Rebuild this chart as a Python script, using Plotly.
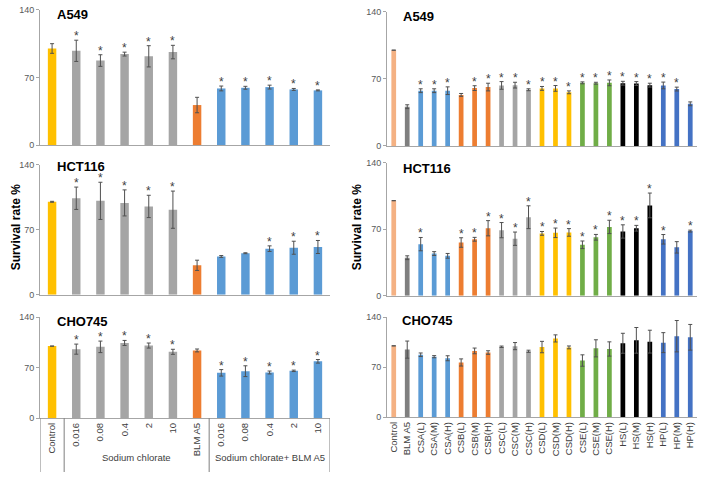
import plotly.graph_objects as go

# ---------------- data ----------------
left_labels = ["Control", "0.016", "0.08", "0.4", "2", "10", "BLM A5",
               "0.016", "0.08", "0.4", "2", "10"]
left_groups = ["Sodium chlorate", "Sodium chlorate+ BLM A5"]

a549_left = [100, 97.6, 87.5, 94.2, 91.9, 96.3, 41.4, 58.6, 59.3, 60.0, 57.6, 56.6]
a549_left_err = [5, 11, 6, 2, 11, 7, 8, 2.5, 1.5, 2, 1, 0.5]
a549_left_star = [0, 1, 1, 1, 1, 1, 0, 1, 1, 1, 1, 1]

hct_left = [100, 103.8, 101, 98.8, 95, 91.5, 31.7, 41.2, 44.7, 49.6, 50.6, 51.4]
hct_left_err = [0.5, 12, 20, 14, 12, 20, 5.5, 1, 0.5, 3, 7, 7]
hct_left_star = [0, 1, 1, 1, 1, 1, 0, 0, 0, 1, 1, 1]

cho_left = [100, 95.8, 99, 104.4, 100.8, 92.1, 94, 62.9, 65.2, 63.4, 65.7, 78.9]
cho_left_err = [0, 7, 8, 3.5, 3.5, 3.5, 2, 4.5, 7.5, 2, 1, 2.5]
cho_left_star = [0, 1, 1, 1, 1, 1, 0, 1, 1, 1, 1, 1]

right_labels = ["Control", "BLM A5", "CSA(L)", "CSA(M)", "CSA(H)", "CSB(L)", "CSB(M)", "CSB(H)",
                "CSC(L)", "CSC(M)", "CSC(H)", "CSD(L)", "CSD(M)", "CSD(H)",
                "CSE(L)", "CSE(M)", "CSE(H)", "HS(L)", "HS(M)", "HS(H)", "HP(L)", "HP(M)", "HP(H)"]

a549_right = [100, 41, 57.7, 57.7, 57.7, 53.3, 60.4, 61.5, 63.2, 63.5, 58.7, 60.1, 60.1, 56,
              65.9, 65.5, 65.9, 65.5, 65.2, 63.5, 63.2, 59.4, 44]
a549_right_err = [0, 2, 2, 2, 4, 1.5, 2.5, 4, 4, 3, 1, 2, 3, 1.5, 1, 1, 3, 2, 2, 2, 3.5, 2, 2]
a549_right_star = [0, 0, 1, 1, 1, 0, 1, 1, 1, 1, 1, 1, 1, 1, 1, 1, 1, 1, 1, 1, 1, 1, 0]

hct_right = [100, 40, 54.3, 44.4, 42, 56, 59.4, 71, 69, 60, 82.6, 65.6, 66.2, 66.6,
             53.6, 61.5, 72.4, 67.6, 71, 95, 59.4, 50.9, 68]
hct_right_err = [0, 2, 7, 2, 2.5, 5, 2, 8, 8, 7, 12, 2, 5, 4, 4, 3, 7, 7, 3, 13, 5, 6, 1]
hct_right_star = [0, 0, 1, 0, 0, 1, 1, 1, 1, 1, 1, 1, 1, 1, 1, 1, 1, 1, 1, 1, 1, 0, 1]

cho_right = [100, 94.7, 87.5, 84.8, 82.6, 76.7, 92.9, 90.6, 98.7, 99.6, 92.4, 98.3, 110.4, 97.8,
             79.4, 96.5, 95.6, 103.6, 107.7, 105.9, 104.5, 113.5, 112]
cho_right_err = [0, 12, 2.5, 1.5, 3.5, 5, 4, 2.5, 1, 5, 1.5, 8, 5, 2, 8, 12, 10, 14, 18, 16, 14, 22, 18]
cho_right_star = [0] * 23

# ---------------- styles ----------------
GOLD, GREY, ORANGE, BLUE = "#FFC000", "#A5A5A5", "#ED7D31", "#5B9BD5"
PEACH, DGREY, GREEN, BLACK, HPBLUE = "#F4B183", "#7F7F7F", "#70AD47", "#000000", "#4472C4"
left_colors = [GOLD] + [GREY] * 5 + [ORANGE] + [BLUE] * 5
right_colors = [PEACH, DGREY] + [BLUE] * 3 + [ORANGE] * 3 + [GREY] * 3 + [GOLD] * 3 + \
               [GREEN] * 3 + [BLACK] * 3 + [HPBLUE] * 3

FONT = "Arial, Liberation Sans, sans-serif"
W, H = 709, 477

def px_x(p):
    return p / W

def px_y(p):
    return 1 - p / H

left_dom = [px_x(40), px_x(330)]
right_dom = [px_x(387), px_x(697)]
ydoms = {
    1: [px_y(143), px_y(5)], 2: [px_y(144), px_y(7)],
    3: [px_y(296), px_y(163)], 4: [px_y(297), px_y(161)],
    5: [px_y(422), px_y(319)], 6: [px_y(421), px_y(319)],
}
title_pos = {1: (55, 10), 2: (401, 12), 3: (55, 165), 4: (401, 167), 5: (55, 323), 6: (400, 322)}

panels = [
    (1, a549_left, a549_left_err, a549_left_star, left_colors, "A549"),
    (2, a549_right, a549_right_err, a549_right_star, right_colors, "A549"),
    (3, hct_left, hct_left_err, hct_left_star, left_colors, "HCT116"),
    (4, hct_right, hct_right_err, hct_right_star, right_colors, "HCT116"),
    (5, cho_left, cho_left_err, cho_left_star, left_colors, "CHO745"),
    (6, cho_right, cho_right_err, cho_right_star, right_colors, "CHO745"),
]

fig = go.Figure()
annotations = []
layout = dict(width=W, height=H, margin=dict(l=0, r=0, t=0, b=0),
              paper_bgcolor="white", plot_bgcolor="white", showlegend=False,
              font=dict(family=FONT, color="#595959"))

for idx, vals, errs, stars, colors, title in panels:
    xs = list(range(len(vals)))
    sfx = "" if idx == 1 else str(idx)
    fig.add_trace(go.Bar(
        x=xs, y=vals, marker=dict(color=colors, line=dict(width=0)),
        error_y=dict(type="data", array=errs, visible=True, color="#505050",
                     thickness=1, width=2),
        xaxis="x" + sfx, yaxis="y" + sfx, width=0.35, hoverinfo="skip"))
    left = idx % 2 == 1
    labels = left_labels if left else right_labels
    bottom = idx in (5, 6)
    layout["xaxis" + sfx] = dict(
        domain=left_dom if left else right_dom, anchor="y" + sfx,
        range=[-0.5, len(vals) - 0.5], showline=True, linecolor="#A6A6A6", linewidth=1,
        showgrid=False, zeroline=False, ticks="",
        tickmode="array", tickvals=xs if bottom else [], ticktext=labels if bottom else [],
        tickangle=-90, tickfont=dict(size=9.5, color="#404040", family=FONT),
        showticklabels=bottom, fixedrange=True)
    layout["yaxis" + sfx] = dict(
        domain=ydoms[idx], anchor="x" + sfx, range=[0, 140],
        tickmode="array", tickvals=[0, 70, 140], ticks="outside", ticklen=3,
        tickcolor="#A6A6A6", showline=True, linecolor="#A6A6A6", linewidth=1,
        showgrid=False, zeroline=False, tickfont=dict(size=9, color="#595959", family=FONT),
        fixedrange=True)
    # panel title
    tx, ty = title_pos[idx]
    annotations.append(dict(
        text="<b>%s</b>" % title, xref="paper", yref="paper",
        x=px_x(tx), y=px_y(ty), xanchor="left", yanchor="middle", showarrow=False,
        font=dict(size=13, color="black", family=FONT)))
    # stars
    for x, v, e, s in zip(xs, vals, errs, stars):
        if s:
            annotations.append(dict(
                text="*", x=x, y=v + e, xref="x" + sfx, yref="y" + sfx,
                showarrow=False, yanchor="middle", yshift=4,
                font=dict(size=12, color="#404040", family=FONT)))

# y-axis titles
for xpx in (7, 357):
    annotations.append(dict(
        text="<b>Survival rate %</b>", xref="paper", yref="paper",
        x=px_x(xpx), y=px_y(227), textangle=-90, showarrow=False,
        font=dict(size=12, color="black", family=FONT)))

# category group separators and labels (left bottom panel)
shapes = []
for b in (-0.5, 0.5, 6.5, 11.5):
    shapes.append(dict(type="line", xref="x5", yref="paper", x0=b, x1=b,
                       y0=0, y1=ydoms[5][0], line=dict(color="#7F7F7F", width=1)))
group_centers = [3.5, 9.0]
for gc, gl in zip(group_centers, left_groups):
    annotations.append(dict(
        text=gl, xref="x5", yref="paper", x=gc, y=px_y(470), showarrow=False,
        font=dict(size=9.5, color="#404040", family=FONT)))

layout["annotations"] = annotations
layout["shapes"] = shapes
fig.update_layout(**layout)
fig.write_html("out.html", config={"displayModeBar": False, "staticPlot": True},
               post_script="document.body.style.margin='0px';")
